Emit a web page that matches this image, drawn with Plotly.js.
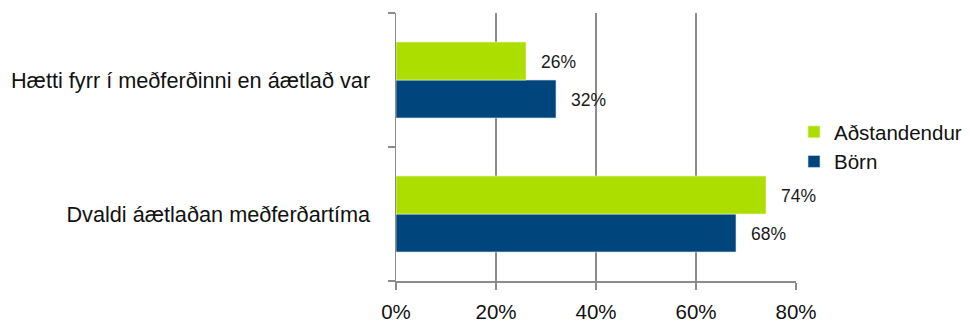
<!DOCTYPE html>
<html><head><meta charset="utf-8">
<script src="https://cdn.plot.ly/plotly-3.0.1.min.js"></script>
<style>html,body{margin:0;padding:0;background:#fff;}#chart{width:970px;height:324px;}</style>
</head><body><div id="chart"></div>
<script>
// Categories listed bottom-to-top (Plotly draws the first category at the bottom)
const categories = ["Dvaldi áætlaðan meðferðartíma", "Hætti fyrr í meðferðinni en áætlað var"];
const seriesNames = ["Börn", "Aðstandendur"];
const bornValues = [68, 32];
const adstandendurValues = [74, 26];
const xTickValues = [0, 20, 40, 60, 80];
const xTickLabels = ["0%", "20%", "40%", "60%", "80%"];

const FONT = "'Liberation Sans', Arial, sans-serif";
const BLUE = "#00467d";
const GREEN = "#acdf00";
const GRID = "#8c8c8c";

const traces = [
  {type: "bar", orientation: "h", name: seriesNames[0], y: categories, x: bornValues,
   marker: {color: BLUE, line: {color: "#d9e6ef", width: 0.6}}, hoverinfo: "skip"},
  {type: "bar", orientation: "h", name: seriesNames[1], y: categories, x: adstandendurValues,
   marker: {color: GREEN, line: {color: "#eef7cc", width: 0.6}}, hoverinfo: "skip"}
];

const annotations = [];
[[bornValues, -19], [adstandendurValues, 19]].forEach(([vals, ys]) => {
  vals.forEach((v, i) => {
    annotations.push({x: v, y: categories[i], xref: "x", yref: "y", text: v + "%",
      showarrow: false, xanchor: "left", yanchor: "middle", xshift: 13, yshift: ys - 1,
      font: {family: FONT, size: 17.5, color: "#1a1a1a"}});
  });
});

const layout = {
  width: 970, height: 324,
  margin: {l: 396, r: 174, t: 13, b: 43, autoexpand: false},
  paper_bgcolor: "#fff", plot_bgcolor: "#fff",
  barmode: "group", bargap: 0.433, bargroupgap: 0,
  showlegend: true,
  legend: {x: 0.995, y: 0.5, xanchor: "left", yanchor: "middle", traceorder: "reversed",
    font: {family: FONT, size: 20.5, color: "#111"}, itemwidth: 30, tracegroupgap: 0,
    bgcolor: "rgba(0,0,0,0)"},
  xaxis: {range: [0, 80], tickvals: xTickValues, ticktext: xTickLabels,
    showgrid: true, gridcolor: GRID, gridwidth: 1.5, zeroline: false,
    showline: true, linecolor: GRID, linewidth: 1.5,
    ticks: "outside", ticklen: 7, tickcolor: GRID, tickwidth: 1.5,
    ticklabelstandoff: 5,
    tickfont: {family: FONT, size: 20.5, color: "#111"}, fixedrange: true},
  yaxis: {type: "category", tickson: "boundaries", showgrid: false, zeroline: false,
    showline: true, linecolor: GRID, linewidth: 1.5,
    ticks: "outside", ticklen: 7, tickcolor: GRID, tickwidth: 1.5,
    ticklabelstandoff: 20,
    tickfont: {family: FONT, size: 21.7, color: "#111"}, fixedrange: true},
  annotations: annotations
};

Plotly.newPlot("chart", traces, layout, {displayModeBar: false, staticPlot: true});
</script></body></html>
